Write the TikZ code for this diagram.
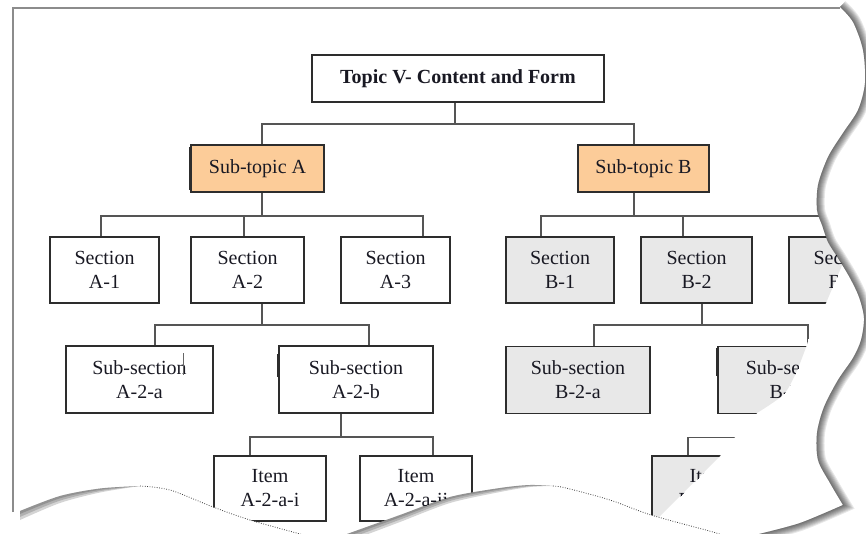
\documentclass[tikz,border=0pt]{standalone}
\usepackage{fontspec}
\setmainfont{Liberation Serif}
\definecolor{peach}{RGB}{252,204,153}
\definecolor{lgray}{RGB}{232,232,232}
\definecolor{boxc}{RGB}{45,45,45}
\definecolor{linec}{RGB}{85,85,85}
\definecolor{framec}{RGB}{140,140,140}
\definecolor{txt}{RGB}{25,25,35}
\tikzset{
  box/.style={draw=boxc, line width=1.7pt, align=center, inner sep=0pt, text=txt,
    font=\fontsize{20}{24}\selectfont},
  topbox/.style={box, line width=2.7pt, font=\fontsize{20}{24}\selectfont\bfseries},
  secbox/.style={box, minimum height=66pt},
  subbox/.style={box, minimum height=67pt},
  itembox/.style={box, minimum height=65pt},
  conn/.style={draw=linec, line width=1.7pt},
  thickedge/.style={draw=boxc, line width=3.2pt},
  dotline/.style={draw=black!75, line width=0.8pt, dash pattern=on 0.8pt off 1.6pt},
}
\begin{document}
\begin{tikzpicture}[x=1pt,y=-1pt]
\useasboundingbox (0,0) rectangle (866,534);
\fill[white] (0,0) rectangle (866,534);

\begin{scope}
\clip (0,0) -- (840,0) -- plot[smooth] coordinates {(840,7) (853,22) (863,50) (865,83) (858,110) (843,133) (828,157) (818,185) (817,210) (822,225) (828,242) (838,258) (843,263)}
 -- plot[smooth] coordinates {(826,303) (812,330) (805,350) (795,375) (783,395) (757,413)}
 -- (735,437) -- (720,456) -- (659,517)
 -- plot[smooth] coordinates {(651,515) (610,500) (566,488) (553,486) (530,485) (500,488) (450,497) (400,515) (347,534)}
 -- plot[smooth] coordinates {(300,534) (250,520) (213,507) (170,490) (140,486) (100,489) (60,497) (20,512)}
 -- (0,512) -- cycle;

% page frame
\draw[framec, line width=2pt] (13,512) -- (13,8) -- (840,8);

% nodes
\node[topbox, minimum width=292pt, minimum height=47pt] (T) at (458,78.5) {Topic V- Content and Form};
\node[box, fill=peach, minimum width=133pt, minimum height=47pt] (SA) at (257.5,168.5) {Sub-topic A};
\node[box, fill=peach, minimum width=131pt, minimum height=47pt] (SB) at (643.5,168.5) {Sub-topic B};

\node[secbox, minimum width=109pt] (A1) at (104.5,270) {Section\\A-1};
\node[secbox, minimum width=113pt] (A2) at (247.5,270) {Section\\A-2};
\node[secbox, minimum width=109pt] (A3) at (395.5,270) {Section\\A-3};
\node[secbox, fill=lgray, minimum width=108pt] (B1) at (560,270) {Section\\B-1};
\node[secbox, fill=lgray, minimum width=111pt] (B2) at (696.5,270) {Section\\B-2};
\node[secbox, fill=lgray, minimum width=109pt] (B3) at (843.5,270) {Section\\B-3};

\node[subbox, minimum width=147pt] (SAa) at (139.5,379.5) {Sub-section\\A-2-a};
\node[subbox, minimum width=154pt] (SAb) at (356,379.5) {Sub-section\\A-2-b};
\node[subbox, fill=lgray, minimum width=144pt] (SBa) at (578,380) {Sub-section\\B-2-a};
\node[subbox, fill=lgray, minimum width=150pt] (SBb) at (793,380) {Sub-section\\B-2-b};

\node[itembox, minimum width=112pt] (IA1) at (270,488.5) {Item\\A-2-a-i};
\node[itembox, minimum width=112pt] (IA2) at (416,488.5) {Item\\A-2-a-ii};
\node[itembox, fill=lgray, minimum width=112pt] (IB) at (708,488.5) {Item\\B-2-b-i};

% thick marks on some left edges
\draw[thickedge] ([yshift=-3pt]SA.north west) -- ([yshift=3pt]SA.south west);
\draw[thickedge] ([yshift=-9pt]SAb.north west) -- ([yshift=-32pt]SAb.north west);
\draw[thickedge] ([yshift=-2pt]SBb.north west) -- ([yshift=-30pt]SBb.north west);
\draw[black!60, line width=1pt] (183,353) -- (183,375);

% connectors
\draw[conn] ([xshift=-3pt]T.south) -- ++(0,21) coordinate (j0);
\draw[conn] ([xshift=4.5pt]SA.north) |- (j0) -| ([xshift=-9.5pt]SB.north);

\draw[conn] ([xshift=4.5pt]SA.south) -- ++(0,23) coordinate (j1);
\draw[conn] ([xshift=-3.5pt]A1.north) |- (j1) -| ([xshift=27.5pt]A3.north);
\draw[conn] ([xshift=-3.5pt]A2.north) -- ([xshift=-3.5pt]A2.north |- j1);

\draw[conn] ([xshift=-9.5pt]SB.south) -- ++(0,23) coordinate (j2);
\draw[conn] ([xshift=-19pt]B1.north) |- (j2) -| ([xshift=6.5pt]B3.north);
\draw[conn] ([xshift=-13.5pt]B2.north) -- ([xshift=-13.5pt]B2.north |- j2);

\draw[conn] ([xshift=14.5pt]A2.south) -- ++(0,21) coordinate (j3);
\draw[conn] ([xshift=15.5pt]SAa.north) |- (j3) -| ([xshift=13pt]SAb.north);

\draw[conn] ([xshift=-15pt]SAb.south) -- ++(0,23) coordinate (j4);
\draw[conn] ([xshift=-20pt]IA1.north) |- (j4) -| ([xshift=17pt]IA2.north);

\draw[conn] ([xshift=5.5pt]B2.south) -- ++(0,21) coordinate (j5);
\draw[conn] ([xshift=16pt]SBa.north) |- (j5) -| ([xshift=15pt]SBb.north);

\draw[conn] ([xshift=-15pt]SBb.south) -- ++(0,23) coordinate (j6);
\draw[conn] ([xshift=-20pt]IB.north) |- (j6);
\end{scope}

% right edge shadow
\begin{scope}
\clip (840,0) -- plot[smooth] coordinates {(840,7) (853,22) (863,50) (865,83) (858,110) (843,133) (828,157) (818,185) (817,210) (822,225) (828,242) (838,258) (850,278) (859,297) (864,318) (861,340) (853,358) (838,380) (824,407) (817,433) (818,460) (830,483) (843,505)} -- plot[smooth] coordinates {(843,505) (800,523) (759,534)} -- (866,534) -- (866,0) -- cycle;
\foreach \w in {2,4,...,16}{
 \draw[black, opacity=0.09, line width=\w pt] plot[smooth] coordinates {(840,7) (853,22) (863,50) (865,83) (858,110) (843,133) (828,157) (818,185) (817,210) (822,225) (828,242) (838,258) (850,278) (859,297) (864,318) (861,340) (853,358) (838,380) (824,407) (817,433) (818,460) (830,483) (843,505)} -- plot[smooth] coordinates {(843,505) (800,523) (759,534) (740,539)};
}
\end{scope}

% bottom shadows
\foreach \s in {0.33,0.66,1}{
 \fill[black, opacity=0.17] plot[smooth] coordinates {(20,511) (60,496) (100,488.5) (140,486)}
   -- plot[smooth] coordinates {(140,486) (100,{488.5+4*\s}) (60,{496+7*\s}) (20,{511+9*\s})} -- cycle;
 \fill[black, opacity=0.17] plot[smooth] coordinates {(347,534) (400,515) (450,497) (500,488) (530,485) (553,486)}
   -- plot[smooth] coordinates {(553,486) (530,{485+2*\s}) (500,{488+4*\s}) (450,{497+6*\s}) (400,{515+7*\s}) (347,{534+8*\s})} -- cycle;
}

% dotted tear lines
\draw[dotline] plot[smooth] coordinates {(140,486) (170,490) (213,507) (250,520) (300,534) (310,537)};
\draw[dotline] plot[smooth] coordinates {(553,486) (566,488) (610,500) (651,515) (713,532) (725,536)};
\end{tikzpicture}
\end{document}
